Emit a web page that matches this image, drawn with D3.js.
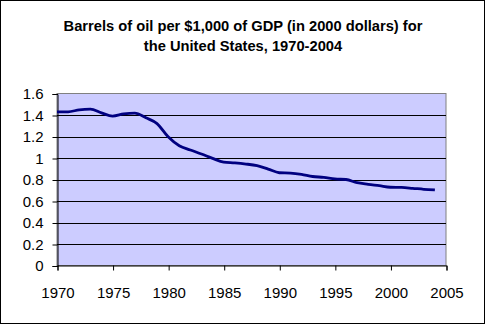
<!DOCTYPE html>
<html><head><meta charset="utf-8">
<script src="https://cdn.jsdelivr.net/npm/d3@7"></script>
<style>html,body{margin:0;padding:0;background:#fff;}svg{display:block;}</style>
</head><body>
<svg id="c" width="485" height="324"></svg>
<script>
const years = [1970,1971,1972,1973,1974,1975,1976,1977,1978,1979,1980,1981,1982,1983,1984,1985,1986,1987,1988,1989,1990,1991,1992,1993,1994,1995,1996,1997,1998,1999,2000,2001,2002,2003,2004];
const barrels = [1.43,1.43,1.448,1.454,1.42,1.39,1.41,1.418,1.374,1.32,1.197,1.114,1.074,1.037,0.997,0.962,0.955,0.944,0.928,0.897,0.863,0.86,0.848,0.828,0.82,0.805,0.80,0.77,0.755,0.742,0.728,0.726,0.718,0.709,0.703];
const yTicks = [0,0.2,0.4,0.6,0.8,1,1.2,1.4,1.6];
const xTicks = [1970,1975,1980,1985,1990,1995,2000,2005];
const titleLines = ["Barrels of oil per $1,000 of GDP (in 2000 dollars) for","the United States, 1970-2004"];

const svg = d3.select("#c");
const W=485,H=324;
svg.append("rect").attr("x",0.5).attr("y",0.5).attr("width",W-1).attr("height",H-1).attr("fill","#fff").attr("stroke","#000");

const L=57,R=446,T=93.5,B=265.5;
const x = d3.scaleLinear().domain([1970,2005]).range([L,R]);
const y = d3.scaleLinear().domain([0,1.6]).range([B,T]);

svg.append("rect").attr("x",L).attr("y",T).attr("width",R-L).attr("height",B-T).attr("fill","#CCCCFF").attr("stroke","#808080");

// gridlines
svg.append("g").selectAll("line").data(yTicks.filter(d=>d>0&&d<1.6)).join("line")
  .attr("x1",L).attr("x2",R).attr("y1",d=>Math.round(y(d))+0.5).attr("y2",d=>Math.round(y(d))+0.5)
  .attr("stroke","#000").attr("stroke-width",1);

const fam = "'Liberation Sans', Arial, sans-serif";
const ya = d3.axisLeft(y).tickValues(yTicks).tickSize(5).tickPadding(9).tickFormat(d3.format("~g"));
const gy = svg.append("g").attr("transform",`translate(${L+0.5},0.5)`).call(ya);
gy.selectAll("text").attr("font-family",fam).attr("font-size","15px").attr("fill","#000");
gy.selectAll("line,path").attr("stroke","#000");

const xa = d3.axisBottom(x).tickValues(xTicks).tickSize(5).tickPadding(17).tickFormat(d3.format("d"));
const gx = svg.append("g").attr("transform",`translate(0.5,${B})`).call(xa);
gx.selectAll("text").attr("font-family",fam).attr("font-size","15px").attr("fill","#000");
gx.selectAll("line,path").attr("stroke","#000");

const line = d3.line().x((d,i)=>x(years[i])).y(d=>y(d)).curve(d3.curveMonotoneX);
svg.append("path").datum(barrels).attr("d",line).attr("fill","none").attr("stroke","#000080").attr("stroke-width",2.8);

svg.append("g").selectAll("text").data(titleLines).join("text")
  .attr("x",243).attr("y",(d,i)=>31+i*20).attr("text-anchor","middle")
  .attr("font-family",fam).attr("font-weight","bold").attr("font-size","14.7px").attr("fill","#000").text(d=>d);
</script>
</body></html>
